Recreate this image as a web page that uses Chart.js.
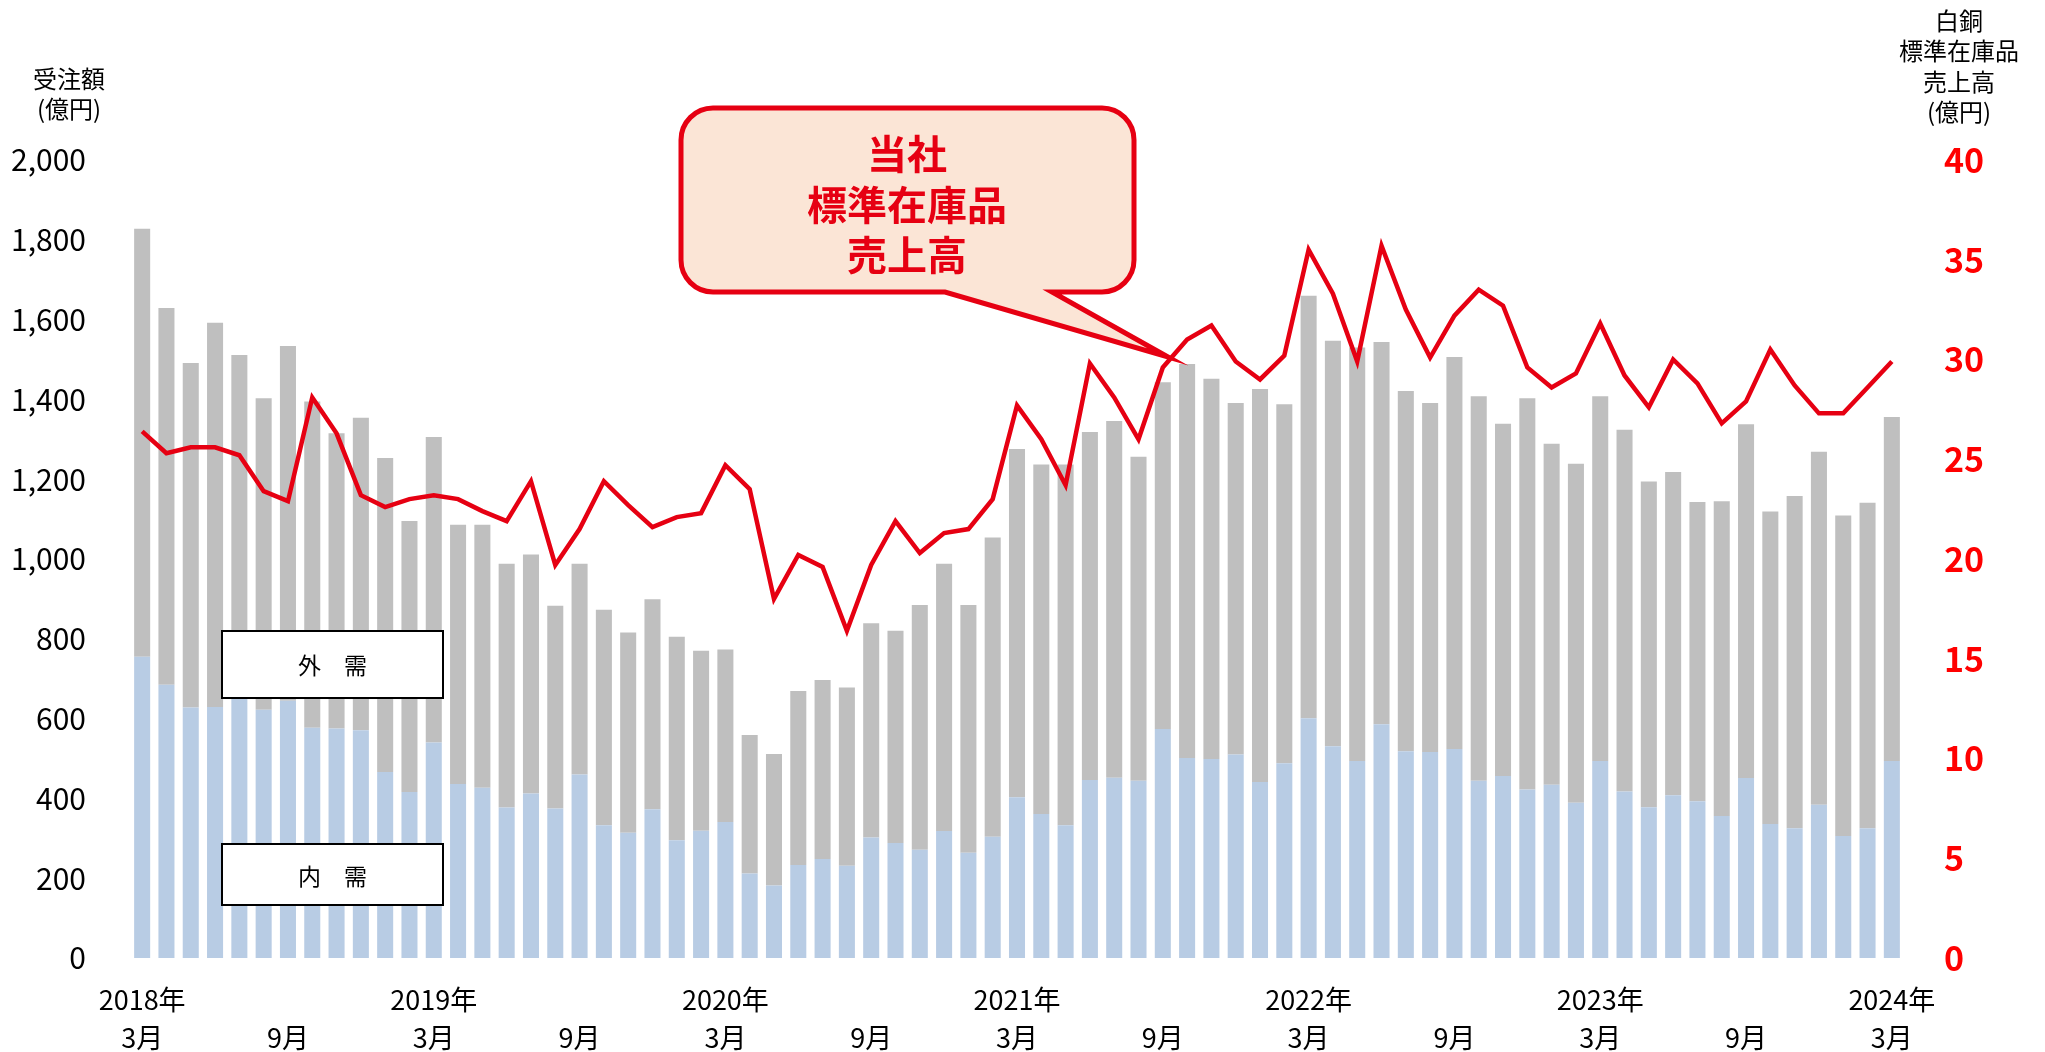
<!DOCTYPE html>
<html><head><meta charset="utf-8">
<script src="https://cdn.jsdelivr.net/npm/chart.js@4.4.1/dist/chart.umd.min.js"></script>
<style>html,body{margin:0;padding:0;background:#fff;} #c{display:block;}</style>
</head><body>
<canvas id="c" width="2045" height="1052"></canvas>
<script>
const categories = [
 "2018/3","2018/4","2018/5","2018/6","2018/7","2018/8","2018/9","2018/10","2018/11","2018/12",
 "2019/1","2019/2","2019/3","2019/4","2019/5","2019/6","2019/7","2019/8","2019/9","2019/10","2019/11","2019/12",
 "2020/1","2020/2","2020/3","2020/4","2020/5","2020/6","2020/7","2020/8","2020/9","2020/10","2020/11","2020/12",
 "2021/1","2021/2","2021/3","2021/4","2021/5","2021/6","2021/7","2021/8","2021/9","2021/10","2021/11","2021/12",
 "2022/1","2022/2","2022/3","2022/4","2022/5","2022/6","2022/7","2022/8","2022/9","2022/10","2022/11","2022/12",
 "2023/1","2023/2","2023/3","2023/4","2023/5","2023/6","2023/7","2023/8","2023/9","2023/10","2023/11","2023/12",
 "2024/1","2024/2","2024/3"];
// 内需 (億円)
const domestic = [
 755,685,628,629,650,622,645,577,575,571,
 466,416,540,436,427,377,412,375,460,333,314,373,
 295,319,341,212,182,233,248,231,302,288,271,318,
 264,304,403,361,333,446,452,444,574,501,499,510,
 441,488,601,531,494,586,518,516,524,444,456,422,
 434,389,494,417,378,408,393,356,451,336,325,384,
 306,325,494];
// 外需 (億円)
const foreign = [
 1073,944,863,963,861,781,889,818,740,783,
 787,679,766,650,659,611,599,508,528,540,502,526,
 510,451,432,347,329,436,449,447,537,532,614,670,
 621,750,873,876,904,872,894,812,869,988,953,881,
 985,900,1059,1016,1036,958,903,875,982,964,883,981,
 855,850,914,907,816,810,750,789,887,783,833,885,
 803,816,862];
// 白銅 標準在庫品 売上高 (億円)
const stockSales = [
 26.4,25.3,25.6,25.6,25.2,23.4,22.9,28.1,26.3,23.2,
 22.6,23.0,23.2,23.0,22.4,21.9,23.9,19.7,21.5,23.9,22.7,21.6,
 22.1,22.3,24.7,23.5,18.0,20.2,19.6,16.4,19.7,21.9,20.3,21.3,
 21.5,23.0,27.7,26.0,23.7,29.8,28.1,26.0,29.6,31.0,31.7,29.9,
 29.0,30.2,35.5,33.3,29.9,35.7,32.5,30.1,32.2,33.5,32.7,29.6,
 28.6,29.3,31.8,29.2,27.6,30.0,28.8,26.8,27.9,30.5,28.7,27.3,
 27.3,28.6,29.9];
const tickCategories = ["2018/3","2018/9","2019/3","2019/9","2020/3","2020/9","2021/3","2021/9","2022/3","2022/9","2023/3","2023/9","2024/3"];
const tickLine1 = ["2018年","","2019年","","2020年","","2021年","","2022年","","2023年","","2024年"];
const tickLine2 = ["3月","9月","3月","9月","3月","9月","3月","9月","3月","9月","3月","9月","3月"];
const leftTitle = ["受注額","(億円)"];
const rightTitle = ["白銅","標準在庫品","売上高","(億円)"];
const calloutText = ["当社","標準在庫品","売上高"];
const legendTexts = ["外　需","内　需"];

const FONT = '"Noto Sans CJK JP","Noto Sans",sans-serif';
const RED = '#E60012';

const annot = {
  id: 'annot',
  afterDraw(chart) {
    const c = chart.ctx;
    c.save();
    c.textAlign = 'center';
    c.textBaseline = 'middle';
    // axis titles
    c.fillStyle = '#000';
    c.font = '24px ' + FONT;
    c.fillText(leftTitle[0], 69, 79);
    c.fillText(leftTitle[1], 69, 109);
    [21, 51, 82, 112].forEach((y, k) => c.fillText(rightTitle[k], 1959, y));
    // legend boxes
    c.lineWidth = 2;
    c.strokeStyle = '#000';
    [[222, 631, 221, 67, 665], [222, 844, 221, 61, 876]].forEach((b, k) => {
      c.fillStyle = '#fff';
      c.fillRect(b[0], b[1], b[2], b[3]);
      c.strokeRect(b[0], b[1], b[2], b[3]);
      c.fillStyle = '#000';
      c.font = '23px ' + FONT;
      c.fillText(legendTexts[k], b[0] + b[2] / 2, b[4]);
    });
    // callout
    const L = 681, T = 108, R = 1134, B = 292, r = 32;
    c.beginPath();
    c.moveTo(L + r, T);
    c.lineTo(R - r, T);
    c.arcTo(R, T, R, T + r, r);
    c.lineTo(R, B - r);
    c.arcTo(R, B, R - r, B, r);
    c.lineTo(1052, B);
    c.lineTo(1168, 357);
    c.lineTo(945, B);
    c.lineTo(L + r, B);
    c.arcTo(L, B, L, B - r, r);
    c.lineTo(L, T + r);
    c.arcTo(L, T, L + r, T, r);
    c.closePath();
    c.fillStyle = '#FBE5D6';
    c.fill();
    c.lineWidth = 5;
    c.strokeStyle = RED;
    c.lineJoin = 'miter';
    c.stroke();
    c.fillStyle = RED;
    c.font = 'bold 40px ' + FONT;
    [154, 205, 255].forEach((y, k) => c.fillText(calloutText[k], 907, y));
    c.restore();
  }
};

new Chart(document.getElementById('c').getContext('2d'), {
  type: 'bar',
  data: {
    labels: categories,
    datasets: [
      { type: 'line', label: '標準在庫品売上高', data: stockSales, yAxisID: 'y1',
        borderColor: RED, backgroundColor: RED, borderWidth: 4.5, pointRadius: 0,
        tension: 0, fill: false, borderJoinStyle: 'miter' },
      { label: '内需', data: domestic, yAxisID: 'y', backgroundColor: '#B8CCE4',
        barPercentage: 0.66, categoryPercentage: 1 },
      { label: '外需', data: foreign, yAxisID: 'y', backgroundColor: '#BFBFBF',
        barPercentage: 0.66, categoryPercentage: 1 }
    ]
  },
  options: {
    responsive: false, animation: false, devicePixelRatio: 1,
    layout: { padding: { top: 160, left: 0, right: 0, bottom: 0 } },
    plugins: { legend: { display: false }, tooltip: { enabled: false } },
    scales: {
      x: {
        stacked: true,
        grid: { display: false, drawTicks: false }, border: { display: false },
        ticks: {
          autoSkip: false, maxRotation: 0, minRotation: 0, padding: 23, color: '#000',
          font: { family: FONT, size: 27, lineHeight: 1.4 },
          callback: function (v, i) {
            const k = tickCategories.indexOf(categories[i]);
            return k < 0 ? '' : [tickLine1[k], tickLine2[k]];
          }
        },
        afterFit: s => { s.height = 94; }
      },
      y: {
        stacked: true, position: 'left', min: 0, max: 2000,
        grid: { display: false, drawTicks: false }, border: { display: false },
        ticks: { stepSize: 200, padding: 44, color: '#000', font: { family: FONT, size: 30 },
          callback: v => v.toLocaleString('en-US') },
        afterFit: s => { s.width = 130; }
      },
      y1: {
        position: 'right', min: 0, max: 40,
        grid: { display: false, drawTicks: false }, border: { display: false },
        ticks: { stepSize: 5, padding: 40, color: '#FF0000', font: { family: FONT, size: 34, weight: 'bold' } },
        afterFit: s => { s.width = 141; }
      }
    }
  },
  plugins: [annot]
});
</script>
</body></html>
